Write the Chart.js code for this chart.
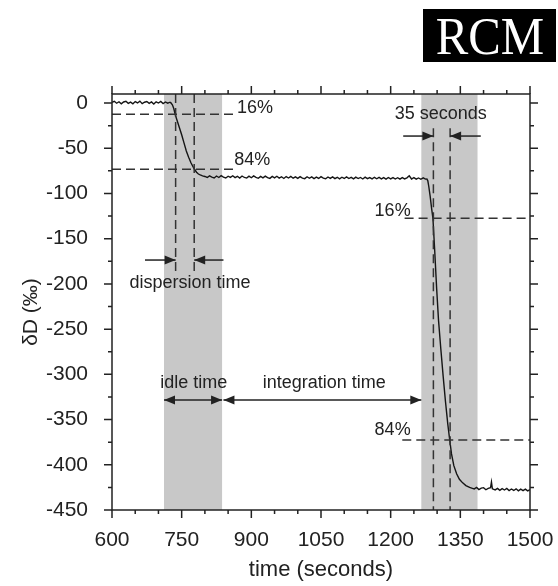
<!DOCTYPE html>
<html>
<head>
<meta charset="utf-8">
<title>δD response</title>
<script src="https://cdn.jsdelivr.net/npm/chart.js@4.4.1/dist/chart.umd.min.js"></script>
<style>
  body { margin: 0; background: #fff; }
  #wrap { position: relative; width: 558px; height: 586px; }
  #logo {
    position: absolute; left: 423px; top: 9px; width: 133px; height: 53px;
    background: #000; color: #fff; text-align: center;
    font-family: "Liberation Serif", "DejaVu Serif", serif; font-size: 53px; line-height: 55px;
  }
  #logo span { display: inline-block; transform: scaleX(0.92); }
</style>
</head>
<body>
<div id="wrap">
  <canvas id="trace" width="558" height="586"></canvas>
  <div id="logo"><span>RCM</span></div>
</div>
<script>
// δD trace (‰) against time (s)
const timeSec = [
  600, 605, 610, 615, 620, 625, 630, 635, 640, 645, 650, 655, 660, 665, 670, 675, 680, 685, 690, 695,
  700, 705, 710, 715, 720, 725,
  727, 730, 733, 736, 740, 745, 750, 755, 760, 765, 770, 775, 778, 782, 786, 790, 795, 800,
  805, 810, 815, 820, 825, 830, 835, 840, 845, 850, 855, 860, 865, 870, 875, 880, 885, 890, 895, 900,
  905, 910, 915, 920, 925, 930, 935, 940, 945, 950, 955, 960, 965, 970, 975, 980, 985, 990, 995, 1000,
  1005, 1010, 1015, 1020, 1025, 1030, 1035, 1040, 1045, 1050, 1055, 1060, 1065, 1070, 1075, 1080, 1085, 1090, 1095, 1100,
  1105, 1110, 1115, 1120, 1125, 1130, 1135, 1140, 1145, 1150, 1155, 1160, 1165, 1170, 1175, 1180, 1185, 1190, 1195, 1200,
  1205, 1210, 1215, 1220, 1225, 1230, 1235, 1240, 1245, 1250, 1255, 1260, 1265, 1270, 1275, 1278,
  1280, 1282, 1285, 1288, 1291, 1295, 1299, 1303, 1308, 1313, 1318, 1323, 1327, 1331, 1336, 1342, 1348, 1355, 1362, 1370, 1376,
  1380, 1385, 1390, 1395, 1400, 1405, 1410, 1415, 1417, 1419, 1425, 1430, 1435, 1440, 1445, 1450, 1455, 1460, 1465, 1470,
  1475, 1480, 1485, 1490, 1495, 1500
];
const deltaD = [
  0.8, 1.9, -0.2, 1.4, -0.9, 1.2, 2.0, -0.3, 1.0, -0.8, 1.6, 0.1, 2.1, -0.7, 0.9, 1.7, -0.4, 1.3, -1.1, 1.4,
  0.0, 1.8, -0.6, 1.2, -0.2, 0.9,
  0, -2, -6, -12.5, -19, -27, -35, -44, -53, -60, -66, -71, -73.5, -76.5, -78.5, -79.5, -80.5, -81.2,
  -82.3, -80.5, -81.9, -82.8, -80.7, -82.3, -80.3, -81.8, -82.9, -80.9, -82.2, -80.4, -82.5, -81.0, -83.0, -80.7, -82.3, -83.0, -80.9, -82.6,
  -80.6, -82.2, -83.2, -81.1, -82.7, -80.8, -82.5, -83.3, -81.2, -82.8, -81.0, -83.0, -81.5, -83.4, -81.3, -82.9, -81.1, -83.1, -81.6, -83.3,
  -81.4, -83.0, -83.6, -81.5, -83.2, -81.7, -83.5, -81.9, -83.4, -81.4, -83.1, -83.7, -81.8, -83.3, -81.6, -83.6, -82.1, -83.8, -82.0, -83.4,
  -81.7, -83.5, -82.2, -83.9, -81.9, -83.5, -82.3, -84.0, -82.0, -83.6, -82.4, -83.8, -82.1, -83.7, -82.2, -83.9, -82.5, -84.1, -82.3, -83.8,
  -82.4, -84.0, -82.6, -84.2, -82.5, -83.9, -82.7, -80.4, -84.0, -82.5, -84.1, -82.8, -84.3, -82.7, -84.1, -84.0,
  -86, -92, -103, -116, -127.5, -165, -205, -240, -272, -302, -330, -355, -372, -388, -401, -410, -416, -420, -423, -425, -426,
  -426.7, -425.1, -427.4, -425.8, -425.3, -427.6, -426.0, -425.4, -419.0, -426.6, -427.8, -426.1, -428.3, -426.4, -427.9, -426.2, -428.5, -426.8, -428.4, -426.6,
  -428.8, -427.0, -428.6, -426.9, -428.9, -427.6
];

const xTicks = [600, 750, 900, 1050, 1200, 1350, 1500];
const yTicks = [0, -50, -100, -150, -200, -250, -300, -350, -400, -450];

// shaded windows (s)
const shadeBands = [[712, 837], [1266, 1387]];
// 16 % / 84 % levels and the times they are crossed
const firstLevels = [-12.5, -73.3];
const firstTimes = [737, 777];
const secondLevels = [-127.5, -372.6];
const secondTimes = [1292, 1328];

const ink = '#222';
const sans = '"Liberation Sans", Arial, sans-serif';

function arrowHead(ctx, x, y, dir) {
  ctx.beginPath();
  ctx.moveTo(x, y);
  ctx.lineTo(x - dir * 11, y - 4.5);
  ctx.lineTo(x - dir * 11, y + 4.5);
  ctx.closePath();
  ctx.fill();
}

// line from x1 to x2 with a head at x2 (and at x1 when both is set)
function arrow(ctx, x1, x2, y, both) {
  ctx.beginPath();
  ctx.moveTo(x1, y);
  ctx.lineTo(x2, y);
  ctx.stroke();
  const dir = x2 > x1 ? 1 : -1;
  arrowHead(ctx, x2, y, dir);
  if (both) arrowHead(ctx, x1, y, -dir);
}

const figurePlugin = {
  id: 'figure',
  beforeDatasetsDraw(chart) {
    const {ctx, chartArea: a, scales: {x}} = chart;
    ctx.save();
    ctx.fillStyle = '#c8c8c8';
    shadeBands.forEach(([s, e]) => {
      const x0 = x.getPixelForValue(s), x1 = x.getPixelForValue(e);
      ctx.fillRect(x0, a.top, x1 - x0, a.bottom - a.top);
    });
    ctx.restore();
  },
  afterDatasetsDraw(chart) {
    const {ctx, scales: {x, y}} = chart;
    const px = v => x.getPixelForValue(v);
    const py = v => y.getPixelForValue(v);
    ctx.save();
    ctx.strokeStyle = '#333';
    ctx.lineWidth = 1.5;
    ctx.setLineDash([9, 5]);
    const seg = (xa, ya, xb, yb) => {
      ctx.beginPath(); ctx.moveTo(px(xa), py(ya)); ctx.lineTo(px(xb), py(yb)); ctx.stroke();
    };
    firstLevels.forEach(l => seg(600, l, 869, l));
    firstTimes.forEach(t => seg(t, 10, t, -187));
    seg(1230, secondLevels[0], 1500, secondLevels[0]);
    seg(1225, secondLevels[1], 1500, secondLevels[1]);
    secondTimes.forEach(t => seg(t, -28, t, -450));
    ctx.setLineDash([]);

    ctx.strokeStyle = ink;
    ctx.fillStyle = ink;
    ctx.lineWidth = 1.5;
    arrow(ctx, px(671), px(firstTimes[0]), py(-173.6));
    arrow(ctx, px(840), px(firstTimes[1]), py(-173.6));
    arrow(ctx, px(1227), px(secondTimes[0]), py(-36.5));
    arrow(ctx, px(1394), px(secondTimes[1]), py(-36.5));
    arrow(ctx, px(712), px(837), py(-328.4), true);
    arrow(ctx, px(840), px(1266), py(-328.4), true);

    ctx.font = '18px ' + sans;
    ctx.textBaseline = 'middle';
    ctx.textAlign = 'left';
    ctx.fillText('16%', px(869), py(-5.5));
    ctx.fillText('84%', px(863), py(-63));
    ctx.textAlign = 'right';
    ctx.fillText('16%', px(1243), py(-119.4));
    ctx.fillText('84%', px(1243), py(-361.6));
    ctx.textAlign = 'center';
    ctx.fillText('dispersion time', px(768), py(-199));
    ctx.fillText('35 seconds', px(1308), py(-12.2));
    ctx.fillText('idle time', px(776), py(-309.6));
    ctx.fillText('integration time', px(1057), py(-309.6));
    ctx.restore();
  },
  afterDraw(chart) {
    const {ctx, chartArea: a, scales: {x, y}} = chart;
    ctx.save();
    ctx.strokeStyle = ink;
    ctx.lineWidth = 1.5;
    ctx.strokeRect(a.left, a.top, a.right - a.left, a.bottom - a.top);
    ctx.beginPath();
    for (let v = 600; v <= 1500; v += 50) {
      const p = x.getPixelForValue(v);
      const len = v % 150 === 0 ? 8 : 4;
      ctx.moveTo(p, a.bottom); ctx.lineTo(p, a.bottom + len);
      ctx.moveTo(p, a.top); ctx.lineTo(p, a.top - len);
    }
    for (let v = -450; v <= 0; v += 25) {
      const p = y.getPixelForValue(v);
      const len = v % 50 === 0 ? 8 : 4;
      ctx.moveTo(a.left, p); ctx.lineTo(a.left - len, p);
      ctx.moveTo(a.right, p); ctx.lineTo(a.right + len, p);
    }
    ctx.stroke();

    // vertical axis title
    ctx.translate(31, 312);
    ctx.rotate(-Math.PI / 2);
    ctx.fillStyle = ink;
    ctx.font = '21px ' + sans;
    ctx.textAlign = 'center';
    ctx.textBaseline = 'middle';
    ctx.fillText('δD (‰)', 0, 0);
    ctx.restore();
  }
};

const ctxTrace = document.getElementById('trace').getContext('2d');
const traceChart = new Chart(ctxTrace, {
  type: 'line',
  data: {
    datasets: [{
      data: timeSec.map((t, i) => ({x: t, y: deltaD[i]})),
      borderColor: '#151515',
      borderWidth: 1.4,
      pointRadius: 0,
      tension: 0,
      fill: false
    }]
  },
  options: {
    responsive: false,
    animation: false,
    layout: { padding: { top: 94, right: 28, left: 0, bottom: 0 } },
    plugins: { legend: { display: false }, tooltip: { enabled: false } },
    scales: {
      x: {
        type: 'linear',
        min: 600,
        max: 1500,
        afterBuildTicks: s => { s.ticks = xTicks.map(v => ({value: v})); },
        afterFit: s => { s.height = 76; s.paddingLeft = 0; s.paddingRight = 0; },
        grid: { display: false, drawTicks: false },
        border: { display: false },
        ticks: { color: ink, font: { family: sans, size: 21 }, padding: 18, maxRotation: 0, callback: v => String(v) },
        title: { display: true, text: 'time (seconds)', color: ink, font: { family: sans, size: 22 }, padding: { top: 0, bottom: 3 } }
      },
      y: {
        type: 'linear',
        min: -450,
        max: 10,
        afterBuildTicks: s => { s.ticks = yTicks.map(v => ({value: v})); },
        afterFit: s => { s.width = 112; s.paddingTop = 0; s.paddingBottom = 0; },
        grid: { display: false, drawTicks: false },
        border: { display: false },
        ticks: { color: ink, font: { family: sans, size: 21 }, padding: 24, callback: v => String(v) }
      }
    }
  },
  plugins: [figurePlugin]
});
</script>
</body>
</html>
